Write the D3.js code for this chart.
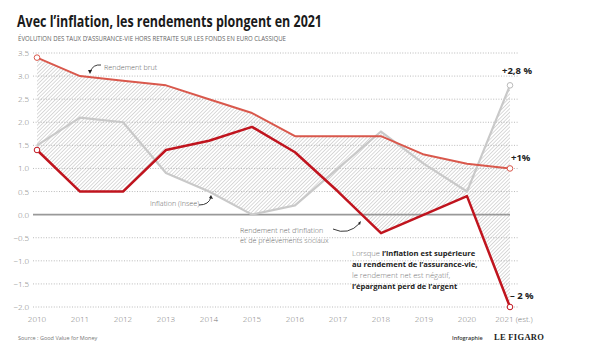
<!DOCTYPE html>
<html><head><meta charset="utf-8">
<script src="https://cdn.jsdelivr.net/npm/d3@7"></script>
<style>
body{margin:0;background:#fff;}
svg{display:block;font-family:"Open Sans",sans-serif;}
</style></head>
<body><svg id="c" width="591" height="359"></svg>
<script>
const years = ["2010","2011","2012","2013","2014","2015","2016","2017","2018","2019","2020","2021"];
const yearLabels = ["2010","2011","2012","2013","2014","2015","2016","2017","2018","2019","2020","2021 (est.)"];
const brut = [3.4,3.0,2.9,2.8,2.5,2.2,1.7,1.7,1.7,1.3,1.1,1.0];
const inflation = [1.5,2.1,2.0,0.9,0.5,0.0,0.2,1.0,1.8,1.1,0.5,2.8];
const net = [1.4,0.5,0.5,1.4,1.6,1.9,1.35,0.5,-0.4,0.0,0.4,-2.0];
const yTicks = [3.5,3.0,2.5,2.0,1.5,1.0,0.5,0.0,-0.5,-1.0,-1.5,-2.0];

const svg = d3.select("#c");
const x = d3.scaleLinear().domain([0, years.length-1]).range([37, 510]);
const y = d3.scaleLinear().domain([-2, 3.5]).range([307, 53]);

// pattern
const defs = svg.append("defs");
const pat = defs.append("pattern").attr("id","hatch").attr("patternUnits","userSpaceOnUse")
  .attr("width",2.6).attr("height",2.6).attr("patternTransform","rotate(45)");
pat.append("line").attr("x1",0).attr("y1",0).attr("x2",0).attr("y2",2.6)
  .attr("stroke","#a2a2a2").attr("stroke-width",0.8);

// envelope
const env = [];
const N = 20;
for (let i=0;i<years.length-1;i++){
  for (let k=0;k<(i===years.length-2?N+1:N);k++){
    const t=k/N;
    const vals=[brut,inflation,net].map(s=>s[i]+(s[i+1]-s[i])*t);
    env.push({t:i+t,max:d3.max(vals),min:d3.min(vals)});
  }
}
svg.append("path").datum(env)
  .attr("d", d3.area().x(d=>x(d.t)).y0(d=>y(d.min)).y1(d=>y(d.max)))
  .attr("fill","url(#hatch)");

// gridlines
svg.append("g").selectAll("line").data(yTicks.filter(v=>v!==0)).join("line")
  .attr("x1",33).attr("x2",519).attr("y1",d=>y(d)).attr("y2",d=>y(d))
  .attr("stroke","#aaa").attr("stroke-width",0.8).attr("stroke-dasharray","1,1.6");
svg.append("line").attr("x1",33).attr("x2",510).attr("y1",y(0)).attr("y2",y(0))
  .attr("stroke","#999").attr("stroke-width",1.6);

// y labels
svg.append("g").selectAll("text").data(yTicks).join("text")
  .attr("x",29).attr("y",d=>y(d)+3).attr("text-anchor","end")
  .attr("font-size",8).attr("fill","#777").attr("font-weight",300)
  .text(d=>d3.format(".1f")(d));

// x labels
svg.append("g").selectAll("text").data(yearLabels).join("text")
  .attr("x",(d,i)=>x(i)+(i===11?4:0)).attr("y",322).attr("text-anchor","middle")
  .attr("font-size",8).attr("fill","#777").attr("font-weight",300)
  .text(d=>d);

const line = d3.line().x((d,i)=>x(i)).y(d=>y(d));
svg.append("path").datum(inflation).attr("d",line).attr("fill","none")
  .attr("stroke","#c9c9c9").attr("stroke-width",2.2).attr("stroke-linejoin","round");
svg.append("path").datum(brut).attr("d",line).attr("fill","none")
  .attr("stroke","#d9584c").attr("stroke-width",2).attr("stroke-linejoin","round");
svg.append("path").datum(net).attr("d",line).attr("fill","none")
  .attr("stroke","#c0141e").attr("stroke-width",2.5).attr("stroke-linejoin","round");

// markers
const marks = [
  {i:0,v:brut[0],c:"#d9584c"},{i:11,v:brut[11],c:"#d9584c"},
  {i:0,v:net[0],c:"#c0141e"},{i:11,v:net[11],c:"#c0141e"},
  {i:11,v:inflation[11],c:"#bbb"}];
svg.append("g").selectAll("circle").data(marks).join("circle")
  .attr("cx",d=>x(d.i)).attr("cy",d=>y(d.v)).attr("r",2.8)
  .attr("fill","#fff").attr("stroke",d=>d.c).attr("stroke-width",1);

// end labels
const endLab = [
  {t:"+2,8 %",v:inflation[11],dx:-8,dy:-11},
  {t:"+1%",v:brut[11],dx:1,dy:-7},
  {t:"– 2 %",v:net[11],dx:0,dy:-8}];
svg.append("g").selectAll("text").data(endLab).join("text")
  .attr("x",d=>x(11)+d.dx).attr("y",d=>y(d.v)+d.dy).attr("font-size",9.5)
  .attr("font-weight",700).attr("fill","#222").text(d=>d.t);

// title
svg.append("text").attr("x",17).attr("y",27).attr("font-size",16.5).attr("font-weight",700)
  .attr("fill","#1a1a1a").attr("textLength",305).attr("lengthAdjust","spacingAndGlyphs")
  .text("Avec l’inflation, les rendements plongent en 2021");
svg.append("text").attr("x",18).attr("y",41).attr("font-size",6.5).attr("fill","#666")
  .attr("textLength",268).attr("lengthAdjust","spacingAndGlyphs")
  .text("ÉVOLUTION DES TAUX D’ASSURANCE-VIE HORS RETRAITE SUR LES FONDS EN EURO CLASSIQUE");

// annotations
const ann = svg.append("g").attr("font-size",7.2).attr("fill","#666").attr("font-weight",300);
ann.append("text").attr("x",104).attr("y",70).text("Rendement brut");
ann.append("text").attr("x",150).attr("y",206).text("Inflation (Insee)");
ann.append("text").attr("x",240).attr("y",233).text("Rendement net d’inflation");
ann.append("text").attr("x",240).attr("y",243).text("et de prélèvements sociaux");

const arrows = svg.append("g").attr("fill","none").attr("stroke","#222").attr("stroke-width",0.9);
arrows.append("path").attr("d","M101,65 Q93,64 90,72");
arrows.append("path").attr("d","M199,205 Q209,205 211,197");
arrows.append("path").attr("d","M333,229 Q348,236 360,223");
const heads = svg.append("g").attr("fill","#222");
heads.append("path").attr("d","M88,70 L90,74 L92,70 Z");
heads.append("path").attr("d","M209,198 L211,195 L213,199 Z");
heads.append("path").attr("d","M358,223 L361,221 L360,225 Z");

// explanation
const ex = svg.append("g").attr("font-size",7.6);
const exLines = [
  [["Lorsque ",0],["l’inflation est supérieure",1]],
  [["au rendement de l’assurance-vie,",1]],
  [["le rendement net est négatif,",0]],
  [["l’épargnant perd de l’argent",1]]];
exLines.forEach((ln,j)=>{
  const t = ex.append("text").attr("x",352).attr("y",256+j*11);
  ln.forEach(([s,b])=>t.append("tspan").text(s)
    .attr("font-weight",b?700:300).attr("fill",b?"#222":"#777"));
});

// footer
svg.append("text").attr("x",18).attr("y",340).attr("font-size",5.5).attr("fill","#777")
  .text("Source : Good Value for Money");
svg.append("text").attr("x",452).attr("y",340).attr("font-size",5.5).attr("fill","#333")
  .attr("font-weight",600).text("Infographie");
svg.append("text").attr("x",494).attr("y",340).attr("font-size",8.5).attr("fill","#222")
  .attr("font-weight",700).attr("font-family","Liberation Serif, serif").attr("letter-spacing",0.3)
  .text("LE FIGARO");
</script></body></html>
